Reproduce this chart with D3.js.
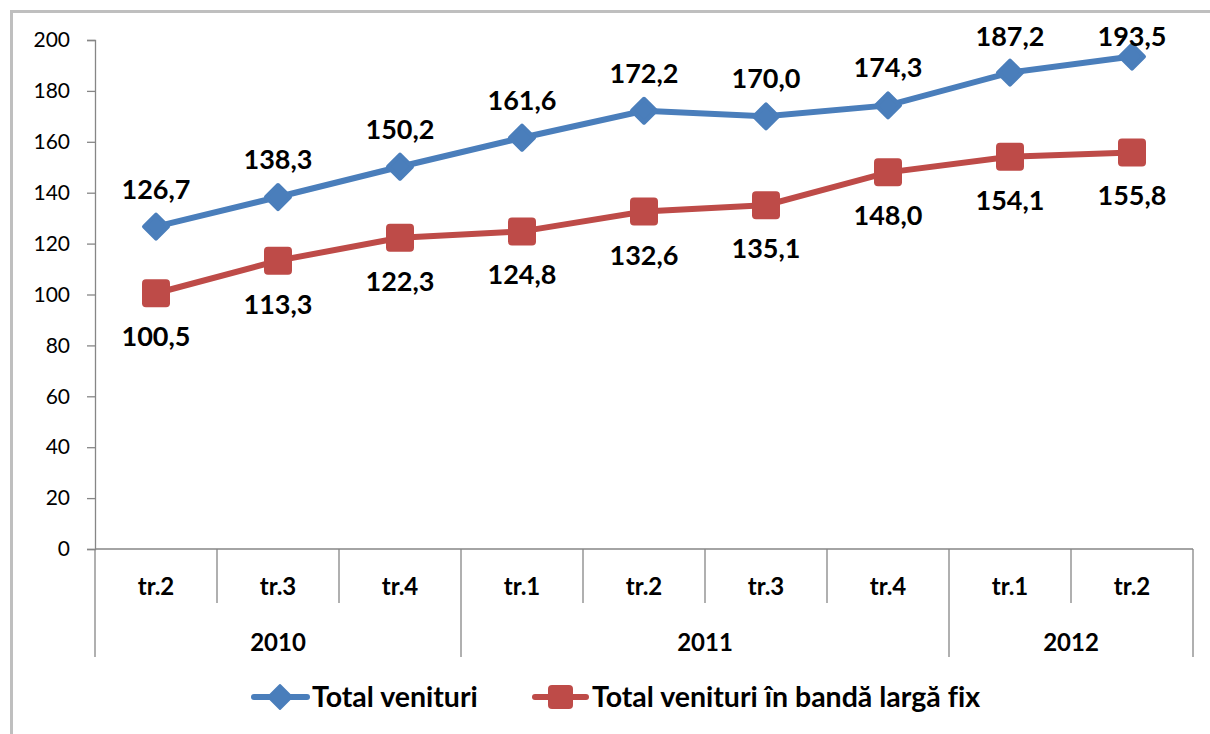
<!DOCTYPE html>
<html><head><meta charset="utf-8">
<script src="https://cdn.jsdelivr.net/npm/d3@7"></script>
<style>body{margin:0;background:#fff}svg{display:block}text{font-family:Lato,"Open Sans",sans-serif;font-variant-ligatures:none}</style>
</head><body><svg id="c" width="1210" height="734"></svg>
<script>
const quarters = ["tr.2","tr.3","tr.4","tr.1","tr.2","tr.3","tr.4","tr.1","tr.2"];
const years = [{label:"2010",n:3},{label:"2011",n:4},{label:"2012",n:2}];
const totalVenituri = [126.7,138.3,150.2,161.6,172.2,170.0,174.3,187.2,193.5];
const totalBanda = [100.5,113.3,122.3,124.8,132.6,135.1,148.0,154.1,155.8];
const seriesNames = ["Total venituri","Total venituri în bandă largă fix"];
const yTicks = [0,20,40,60,80,100,120,140,160,180,200];

const svg = d3.select("#c");
const blue = "#4a7ebb", red = "#be4b48", axisC = "#868686";
svg.append("rect").attr("x",11.5).attr("y",11.5).attr("width",1210).attr("height",740)
  .attr("fill","none").attr("stroke","#bfbfbf").attr("stroke-width",3);

const x0 = 95, x1 = 1193;
const y = d3.scaleLinear().domain([0,200]).range([549,40]);
const x = d3.scaleBand().domain(d3.range(quarters.length)).range([x0,x1]);
const fmt = v => v.toFixed(1).replace(".",",");

// y axis
const ya = svg.append("g").attr("transform",`translate(${x0},0)`)
  .call(d3.axisLeft(y).tickValues(yTicks).tickSize(8).tickPadding(17).tickFormat(d=>d));
ya.select(".domain").attr("stroke",axisC).attr("stroke-width",1.3);
ya.selectAll(".tick line").attr("stroke",axisC).attr("stroke-width",1.3);
ya.selectAll(".tick text").attr("font-size",21).attr("fill","#000").style("font-family","Lato,'Open Sans',sans-serif");

// x axis line
const xa = svg.append("g");
xa.append("line").attr("x1",x0).attr("x2",x1).attr("y1",y(0)).attr("y2",y(0)).attr("stroke",axisC).attr("stroke-width",1.3);
const bounds = d3.range(quarters.length+1).map(i=> i<quarters.length ? x(i) : x1);
let groupEdges = [0]; let acc=0; years.forEach(g=>{acc+=g.n; groupEdges.push(acc);});
bounds.forEach((bx,i)=>{
  const long = groupEdges.includes(i);
  xa.append("line").attr("x1",bx).attr("x2",bx).attr("y1",y(0)).attr("y2",long?657:603)
    .attr("stroke",axisC).attr("stroke-width",1.3);
});
xa.selectAll(".q").data(quarters).join("text").attr("x",(d,i)=>x(i)+x.bandwidth()/2).attr("y",595)
  .attr("text-anchor","middle").attr("font-size",24).attr("font-weight","bold").text(d=>d);
years.forEach((g,k)=>{
  const a = bounds[groupEdges[k]], b = bounds[groupEdges[k+1]];
  xa.append("text").attr("x",(a+b)/2).attr("y",651).attr("text-anchor","middle")
    .attr("font-size",24).attr("font-weight","bold").text(g.label);
});

const cx = i => x(i)+x.bandwidth()/2;
const line = d3.line().x((d,i)=>cx(i)).y(d=>y(d));
// red series
svg.append("path").datum(totalBanda).attr("d",line).attr("fill","none").attr("stroke",red).attr("stroke-width",6);
svg.selectAll(".sq").data(totalBanda).join("rect").attr("x",(d,i)=>cx(i)-14).attr("y",d=>y(d)-14)
  .attr("width",28).attr("height",28).attr("rx",4).attr("fill",red);
// blue series
svg.append("path").datum(totalVenituri).attr("d",line).attr("fill","none").attr("stroke",blue).attr("stroke-width",6);
svg.selectAll(".dm").data(totalVenituri).join("path")
  .attr("d","M0,-12 L12,0 L0,12 L-12,0 Z").attr("stroke",blue).attr("stroke-width",4).attr("stroke-linejoin","round")
  .attr("transform",(d,i)=>`translate(${cx(i)},${y(d)})`).attr("fill",blue);

// labels
svg.selectAll(".lb").data(totalVenituri).join("text").attr("x",(d,i)=>cx(i)).attr("y",d=>Math.max(y(d)-28,46))
  .attr("text-anchor","middle").attr("font-size",27).attr("font-weight","bold").text(fmt);
svg.selectAll(".lr").data(totalBanda).join("text").attr("x",(d,i)=>cx(i)).attr("y",d=>y(d)+53)
  .attr("text-anchor","middle").attr("font-size",27).attr("font-weight","bold").text(fmt);

// legend
const lg = svg.append("g");
lg.append("line").attr("x1",254).attr("x2",307).attr("y1",697).attr("y2",697).attr("stroke",blue).attr("stroke-width",6).attr("stroke-linecap","round");
lg.append("path").attr("d","M0,-12 L12,0 L0,12 L-12,0 Z").attr("transform","translate(280,697)").attr("fill",blue)
  .attr("stroke",blue).attr("stroke-width",2).attr("stroke-linejoin","round");
lg.append("text").attr("x",312).attr("y",707).attr("font-size",28.5).attr("font-weight","bold").text(seriesNames[0]);
lg.append("line").attr("x1",535).attr("x2",586).attr("y1",697).attr("y2",697).attr("stroke",red).attr("stroke-width",6).attr("stroke-linecap","round");
lg.append("rect").attr("x",548).attr("y",685).attr("width",25).attr("height",24).attr("rx",4).attr("fill",red);
lg.append("text").attr("x",592).attr("y",707).attr("font-size",28.5).attr("font-weight","bold").text(seriesNames[1]);
</script></body></html>
